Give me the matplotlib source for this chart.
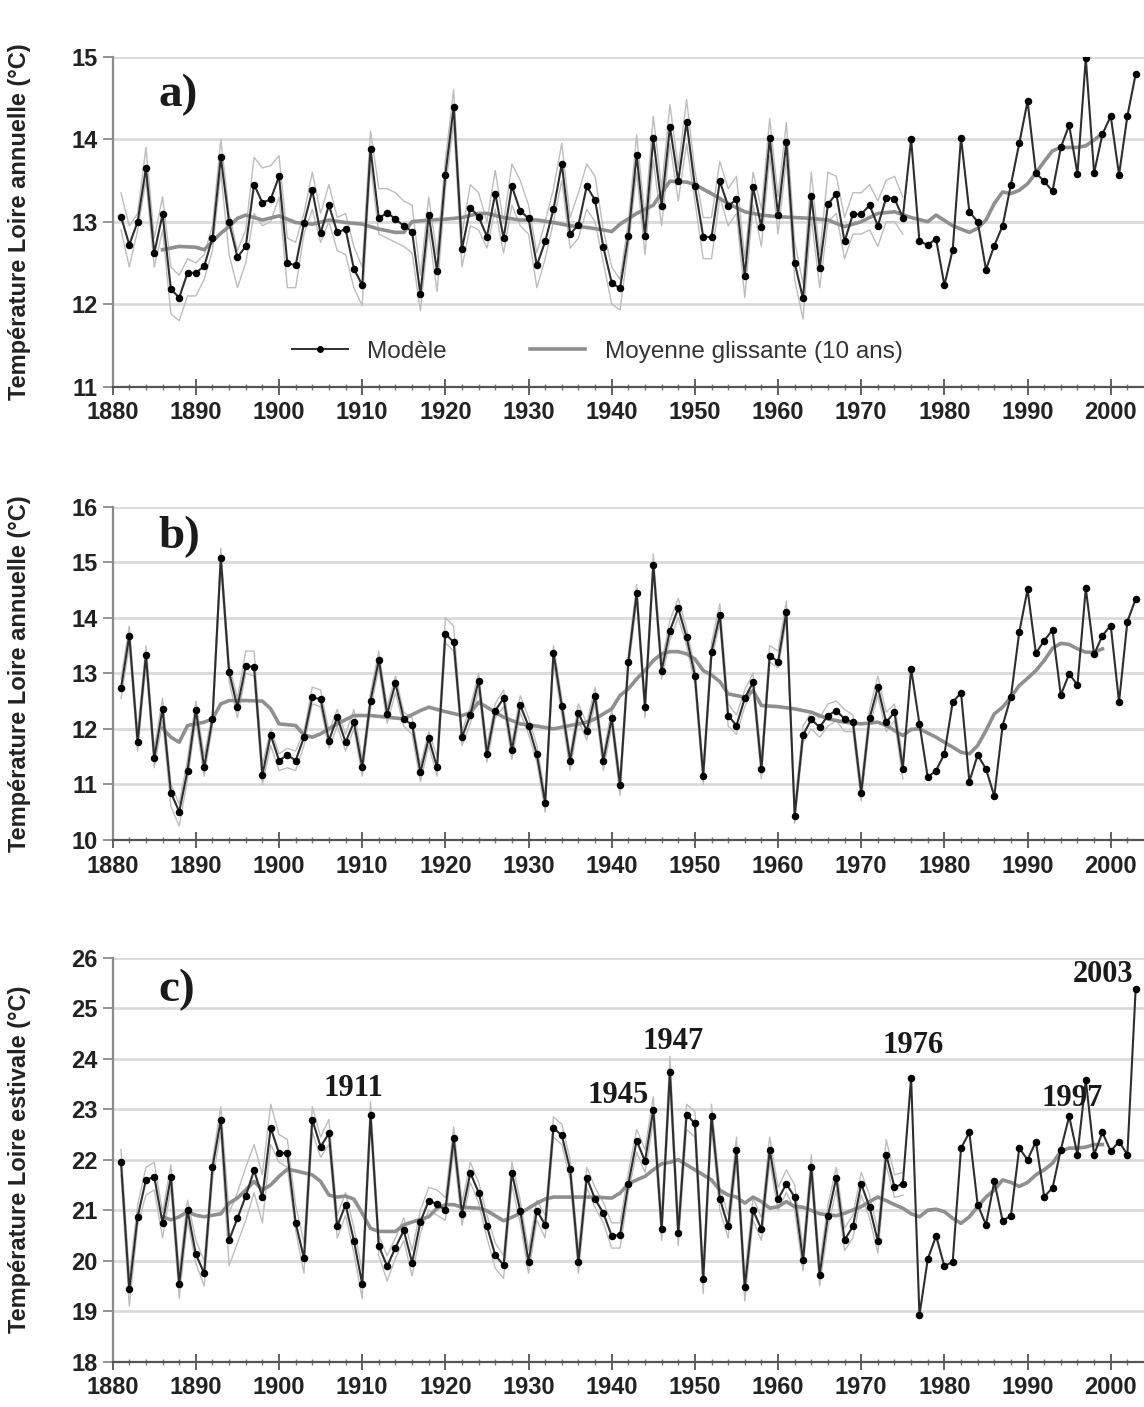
import numpy as np
import matplotlib
matplotlib.use("Agg")
import matplotlib.pyplot as plt
from matplotlib.lines import Line2D

# ---- données ----
annees = np.arange(1881, 2004)
annees_env = np.arange(1881, 1976)

# a) température annuelle (modèle)
modele_a = [13.06, 12.72, 13.0, 13.65, 12.62, 13.09, 12.18, 12.08, 12.38, 12.38,
            12.46, 12.8, 13.78, 12.99, 12.57, 12.7, 13.45, 13.23, 13.27, 13.55,
            12.5, 12.47, 12.98, 13.38, 12.86, 13.2, 12.87, 12.91, 12.43, 12.23,
            13.88, 13.04, 13.11, 13.03, 12.95, 12.88, 12.12, 13.08, 12.4, 13.57,
            14.39, 12.67, 13.17, 13.06, 12.82, 13.34, 12.8, 13.43, 13.13, 13.04,
            12.47, 12.76, 13.15, 13.7, 12.85, 12.96, 13.43, 13.26, 12.69, 12.26,
            12.19, 12.83, 13.81, 12.83, 14.01, 13.19, 14.15, 13.49, 14.21, 13.43,
            12.82, 12.81, 13.49, 13.19, 13.27, 12.34, 13.42, 12.93, 14.01, 13.08,
            13.96, 12.5, 12.07, 13.31, 12.44, 13.21, 13.34, 12.76, 13.09, 13.09,
            13.2, 12.95, 13.29, 13.28, 13.05, 14.0, 12.76, 12.72, 12.79, 12.23,
            12.66, 14.02, 13.12, 13.0, 12.42, 12.71, 12.95, 13.45, 13.95, 14.46,
            13.59, 13.49, 13.37, 13.9, 14.17, 13.58, 14.98, 13.59, 14.06, 14.28,
            13.57, 14.28, 14.79]
haut_a = [13.35, 12.95, 13.1, 13.9, 12.8, 13.3, 12.45, 12.35, 12.55, 12.5,
          12.6, 12.95, 14.0, 13.1, 12.65, 12.9, 13.78, 13.65, 13.68, 13.8,
          12.8, 12.75, 13.1, 13.6, 13.1, 13.45, 13.05, 13.1, 12.7, 12.45,
          14.1, 13.4, 13.4, 13.35, 13.25, 13.2, 12.35, 13.3, 12.6, 13.75,
          14.6, 12.85, 13.45, 13.35, 13.0, 13.62, 12.98, 13.7, 13.5, 13.2,
          12.62, 13.0, 13.4, 13.95, 13.05, 13.35, 13.7, 13.55, 12.9, 12.45,
          12.3, 13.0, 14.05, 13.05, 14.28, 13.4, 14.42, 13.65, 14.48, 13.62,
          13.05, 13.05, 13.73, 13.4, 13.55, 12.55, 13.6, 13.15, 14.25, 13.3,
          14.2, 12.75, 12.25, 13.6, 12.6, 13.6, 13.55, 13.05, 13.35, 13.35,
          13.45, 13.25, 13.5, 13.55, 13.3]
bas_a = [12.9, 12.45, 12.9, 13.5, 12.45, 12.9, 11.88, 11.8, 12.1, 12.1,
         12.3, 12.65, 13.6, 12.6, 12.2, 12.5, 13.1, 12.95, 13.0, 13.3,
         12.2, 12.2, 12.85, 13.15, 12.75, 13.0, 12.65, 12.6, 12.2, 11.98,
         13.7, 12.85, 12.8, 12.75, 12.7, 12.62, 11.92, 12.9, 12.15, 13.4,
         14.2, 12.45, 12.95, 12.9, 12.68, 13.15, 12.62, 13.2, 12.95, 12.85,
         12.2, 12.55, 13.0, 13.5, 12.68, 12.8, 13.15, 13.0, 12.5, 12.0,
         11.93, 12.7, 13.6, 12.6, 13.75, 12.95, 13.95, 13.25, 13.95, 13.25,
         12.55, 12.55, 13.3, 12.95, 13.1, 12.08, 13.2, 12.7, 13.8, 12.85,
         13.75, 12.3, 11.82, 13.05, 12.2, 13.0, 13.1, 12.55, 12.85, 12.85,
         12.9, 12.7, 13.0, 13.0, 12.85]
mm_annees_a = [1886, 1888, 1890, 1891, 1892, 1893, 1894, 1895, 1896, 1898, 1900,
               1902, 1904, 1906, 1908, 1910, 1912, 1914, 1915, 1916, 1918, 1920,
               1922, 1924, 1925, 1927, 1929, 1931, 1933, 1935, 1937, 1939, 1940,
               1941, 1943, 1945, 1946, 1947, 1949, 1950, 1952, 1954, 1956, 1958,
               1960, 1962, 1964, 1966, 1968, 1970, 1972, 1974, 1976, 1978, 1979,
               1981, 1983, 1984, 1985, 1986, 1987, 1988, 1989, 1990, 1991, 1992,
               1993, 1994, 1996, 1997, 1998, 1999]
mm_a = [12.66, 12.70, 12.69, 12.66, 12.76, 12.86, 12.94, 13.04, 13.08, 13.02, 13.07,
        12.99, 12.97, 13.02, 12.99, 12.97, 12.91, 12.87, 12.87, 13.0, 13.02, 13.03,
        13.05, 13.1, 13.1, 13.05, 13.02, 13.02, 12.99, 12.95, 12.93, 12.9, 12.88,
        12.97, 13.1, 13.2, 13.35, 13.49, 13.48, 13.45, 13.34, 13.22, 13.12, 13.08,
        13.06, 13.05, 13.04, 13.02, 12.94, 13.0, 13.1, 13.12, 13.05, 13.0, 13.08,
        12.95, 12.87, 12.92, 13.02, 13.22, 13.36, 13.34, 13.38, 13.46, 13.59, 13.73,
        13.86, 13.9, 13.9, 13.92, 13.99, 14.07]

# b) température annuelle (second jeu)
modele_b = [12.73, 13.68, 11.76, 13.33, 11.47, 12.36, 10.85, 10.51, 11.25, 12.34,
            11.31, 12.18, 15.08, 13.02, 12.39, 13.14, 13.11, 11.17, 11.89, 11.43,
            11.53, 11.43, 11.85, 12.57, 12.53, 11.79, 12.21, 11.76, 12.12, 11.31,
            12.51, 13.24, 12.27, 12.82, 12.18, 12.07, 11.22, 11.83, 11.31, 13.71,
            13.56, 11.85, 12.25, 12.87, 11.55, 12.33, 12.55, 11.62, 12.43, 12.05,
            11.54, 10.67, 13.37, 12.41, 11.43, 12.28, 11.97, 12.59, 11.43, 12.19,
            10.99, 13.21, 14.44, 12.4, 14.95, 13.05, 13.77, 14.17, 13.65, 12.96,
            11.16, 13.39, 14.05, 12.24, 12.06, 12.55, 12.84, 11.28, 13.32, 13.21,
            14.11, 10.44, 11.89, 12.17, 12.03, 12.24, 12.33, 12.18, 12.12, 10.85,
            12.19, 12.75, 12.12, 12.3, 11.28, 13.08, 12.09, 11.13, 11.25, 11.55,
            12.48, 12.65, 11.05, 11.53, 11.28, 10.79, 12.06, 12.58, 13.74, 14.51,
            13.36, 13.59, 13.78, 12.61, 12.99, 12.79, 14.53, 13.34, 13.68, 13.86,
            12.48, 13.93, 14.34]
haut_b = [12.9, 13.85, 11.95, 13.5, 11.65, 12.55, 11.0, 10.65, 11.45, 12.5,
          11.5, 12.3, 15.25, 13.15, 12.55, 13.4, 13.4, 11.35, 12.0, 11.55,
          11.65, 11.6, 11.95, 12.75, 12.7, 11.95, 12.35, 11.9, 12.35, 11.45,
          12.65, 13.4, 12.4, 12.95, 12.3, 12.2, 11.35, 11.95, 11.5, 14.0,
          13.85, 11.95, 12.4, 13.0, 11.7, 12.45, 12.7, 11.75, 12.6, 12.2,
          11.7, 10.8, 13.5, 12.55, 11.55, 12.45, 12.1, 12.75, 11.55, 12.35,
          11.1, 13.35, 14.6, 12.55, 15.15, 13.2, 13.95, 14.35, 13.8, 13.1,
          11.3, 13.55, 14.25, 12.45, 12.25, 12.7, 13.0, 11.45, 13.5, 13.4,
          14.3, 10.6, 12.05, 12.3, 12.2, 12.45, 12.5, 12.35, 12.25, 11.0,
          12.35, 12.95, 12.3, 12.45, 11.45]
bas_b = [12.55, 13.5, 11.6, 13.15, 11.3, 12.15, 10.6, 10.25, 11.1, 12.15,
         11.15, 12.05, 14.9, 12.85, 12.2, 13.0, 12.95, 11.0, 11.7, 11.25,
         11.3, 11.25, 11.7, 12.45, 12.4, 11.65, 12.05, 11.6, 12.0, 11.15,
         12.35, 13.1, 12.1, 12.65, 12.05, 11.9, 11.05, 11.7, 11.15, 13.55,
         13.4, 11.7, 12.1, 12.7, 11.4, 12.2, 12.4, 11.45, 12.3, 11.9,
         11.4, 10.5, 13.2, 12.25, 11.25, 12.15, 11.8, 12.45, 11.25, 12.05,
         10.8, 13.05, 14.3, 12.2, 14.8, 12.9, 13.6, 14.0, 13.5, 12.8,
         11.0, 13.25, 13.9, 12.05, 11.9, 12.4, 12.7, 11.1, 13.2, 13.1,
         13.95, 10.3, 11.75, 12.0, 11.85, 12.05, 12.15, 11.95, 11.95, 10.7,
         12.05, 12.6, 11.95, 12.15, 11.1]
mm_annees_b = [1886, 1887, 1888, 1889, 1890, 1891, 1892, 1893, 1894, 1896, 1898,
               1899, 1900, 1902, 1903, 1904, 1905, 1907, 1909, 1911, 1913, 1915,
               1917, 1918, 1920, 1922, 1923, 1924, 1925, 1927, 1929, 1931, 1933,
               1935, 1937, 1938, 1940, 1941, 1942, 1943, 1944, 1945, 1946, 1947,
               1948, 1949, 1950, 1951, 1952, 1953, 1954, 1955, 1956, 1957, 1958,
               1960, 1962, 1963, 1964, 1966, 1968, 1970, 1972, 1973, 1975, 1976,
               1977, 1979, 1980, 1982, 1983, 1984, 1985, 1986, 1987, 1988, 1989,
               1990, 1991, 1992, 1993, 1994, 1995, 1996, 1997, 1998, 1999]
mm_b = [12.01, 11.85, 11.76, 12.06, 12.09, 12.12, 12.18, 12.45, 12.51, 12.51, 12.5,
        12.36, 12.09, 12.06, 11.89, 11.85, 11.91, 12.09, 12.24, 12.24, 12.21, 12.18,
        12.33, 12.39, 12.31, 12.24, 12.29, 12.48, 12.39, 12.21, 12.09, 12.05, 12.0,
        12.06, 12.12, 12.18, 12.36, 12.6, 12.72, 12.9, 13.05, 13.23, 13.35, 13.39,
        13.39, 13.35, 13.26, 13.05, 12.97, 12.85, 12.63, 12.6, 12.57, 12.69, 12.42,
        12.4, 12.36, 12.33, 12.3, 12.18, 12.12, 12.09, 12.12, 12.06, 11.88, 11.99,
        12.0, 11.85, 11.76, 11.58, 11.55, 11.7, 11.97, 12.27, 12.39, 12.57, 12.78,
        12.91, 13.05, 13.23, 13.45, 13.54, 13.52, 13.44, 13.38, 13.38, 13.44]

# c) température estivale
modele_c = [21.95, 19.43, 20.87, 21.6, 21.66, 20.74, 21.66, 19.54, 21.0, 20.13,
            19.75, 21.85, 22.79, 20.41, 20.84, 21.28, 21.79, 21.26, 22.63, 22.13,
            22.13, 20.75, 20.05, 22.79, 22.26, 22.52, 20.68, 21.11, 20.4, 19.54,
            22.89, 20.29, 19.89, 20.26, 20.6, 19.96, 20.77, 21.19, 21.12, 21.0,
            22.43, 20.93, 21.74, 21.35, 20.68, 20.11, 19.91, 21.74, 20.99, 19.98,
            20.99, 20.71, 22.63, 22.48, 21.81, 19.98, 21.64, 21.22, 20.94, 20.49,
            20.51, 21.52, 22.38, 21.97, 22.99, 20.62, 23.74, 20.54, 22.89, 22.72,
            19.63, 22.87, 21.23, 20.68, 22.19, 19.47, 21.0, 20.62, 22.19, 21.22,
            21.52, 21.26, 20.01, 21.85, 19.72, 20.89, 21.64, 20.41, 20.68, 21.52,
            21.06, 20.39, 22.1, 21.46, 21.52, 23.62, 18.92, 20.03, 20.49, 19.89,
            19.98, 22.23, 22.54, 21.11, 20.71, 21.57, 20.79, 20.89, 22.23, 22.0,
            22.36, 21.27, 21.44, 22.2, 22.86, 22.1, 23.58, 22.1, 22.54, 22.17,
            22.36, 22.1, 25.39]
haut_c = [22.2, 19.7, 21.1, 21.85, 21.95, 20.95, 21.9, 19.8, 21.2, 20.4,
          20.0, 22.0, 23.05, 20.95, 21.35, 21.85, 22.3, 21.7, 23.1, 22.5,
          22.4, 21.1, 20.35, 23.05, 22.45, 22.8, 20.9, 21.35, 20.65, 19.8,
          23.15, 20.5, 20.1, 20.45, 20.85, 20.2, 21.0, 21.45, 21.4, 21.25,
          22.65, 21.15, 21.95, 21.55, 20.9, 20.35, 20.1, 21.95, 21.2, 20.2,
          21.2, 20.9, 22.85, 22.7, 22.0, 20.2, 21.85, 21.45, 21.15, 20.75,
          20.75, 21.75, 22.6, 22.2, 23.25, 20.85, 24.05, 20.8, 23.1, 22.95,
          19.85, 23.1, 21.45, 20.9, 22.45, 19.7, 21.25, 20.85, 22.45, 21.45,
          21.8, 21.5, 20.25, 22.1, 19.95, 21.1, 21.85, 20.65, 20.9, 21.75,
          21.3, 20.6, 22.4, 21.7, 21.75]
bas_c = [21.7, 19.1, 20.7, 21.3, 21.4, 20.45, 21.45, 19.25, 20.8, 19.95,
         19.5, 21.6, 22.55, 19.9, 20.35, 20.8, 21.35, 20.75, 22.3, 21.95,
         21.85, 20.6, 19.75, 22.55, 22.05, 22.3, 20.45, 20.9, 20.15, 19.25,
         22.7, 20.1, 19.6, 20.05, 20.4, 19.7, 20.55, 21.0, 20.9, 20.8,
         22.2, 20.7, 21.55, 21.15, 20.45, 19.85, 19.65, 21.5, 20.75, 19.75,
         20.8, 20.45, 22.45, 22.3, 21.6, 19.75, 21.45, 21.05, 20.75, 20.25,
         20.25, 21.35, 22.15, 21.75, 22.75, 20.4, 23.45, 20.3, 22.6, 22.45,
         19.35, 22.65, 21.0, 20.45, 21.95, 19.2, 20.8, 20.4, 21.95, 21.0,
         21.35, 21.0, 19.8, 21.65, 19.5, 20.65, 21.4, 20.2, 20.45, 21.3,
         20.85, 20.15, 21.9, 21.25, 21.3]
mm_annees_c = [1886, 1887, 1888, 1889, 1890, 1891, 1892, 1893, 1894, 1895, 1896,
               1897, 1898, 1899, 1900, 1901, 1902, 1903, 1904, 1905, 1906, 1907,
               1908, 1909, 1910, 1911, 1912, 1914, 1915, 1917, 1918, 1919, 1920,
               1921, 1922, 1924, 1925, 1926, 1927, 1928, 1929, 1930, 1931, 1932,
               1933, 1936, 1938, 1940, 1941, 1942, 1943, 1944, 1945, 1946, 1947,
               1948, 1949, 1950, 1951, 1952, 1953, 1954, 1955, 1956, 1957, 1958,
               1959, 1960, 1961, 1962, 1963, 1965, 1967, 1968, 1970, 1971, 1972,
               1973, 1974, 1975, 1976, 1977, 1978, 1979, 1980, 1981, 1982, 1983,
               1984, 1985, 1986, 1987, 1988, 1989, 1990, 1991, 1992, 1993, 1994,
               1995, 1996, 1997, 1998, 1999]
mm_c = [20.87, 20.81, 20.87, 20.97, 20.9, 20.87, 20.9, 20.93, 21.14, 21.24, 21.4,
        21.57, 21.4, 21.5, 21.67, 21.81, 21.78, 21.74, 21.7, 21.57, 21.3, 21.26,
        21.28, 21.22, 20.94, 20.64, 20.58, 20.58, 20.71, 20.82, 20.87, 21.04, 21.11,
        21.11, 21.06, 21.04, 20.99, 20.89, 20.79, 20.86, 20.94, 21.04, 21.14, 21.22,
        21.26, 21.26, 21.26, 21.24, 21.34, 21.52, 21.6, 21.67, 21.8, 21.92, 21.95,
        22.0, 21.9, 21.8, 21.7, 21.6, 21.4, 21.3, 21.26, 21.14, 21.26, 21.17,
        21.04, 21.07, 21.17, 21.07, 21.06, 20.93, 20.89, 20.94, 21.07, 21.17, 21.26,
        21.19, 21.11, 21.04, 20.93, 20.87, 21.0, 21.02, 20.97, 20.84, 20.74, 20.87,
        21.07, 21.26, 21.4, 21.6, 21.55, 21.47, 21.55, 21.7, 21.8, 21.93, 22.17,
        22.23, 22.23, 22.25, 22.3, 22.3]

annotations_c = ["1911", "1945", "1947", "1976", "1997", "2003"]
annot_x = [1909.0, 1940.8, 1947.4, 1976.2, 1995.4, 1999.1]
annot_y = [23.42, 23.28, 24.34, 24.27, 23.22, 25.66]

# ---- mise en page ----
plt.rcParams['font.family'] = ['Liberation Sans', 'DejaVu Sans']
fig = plt.figure(figsize=(11.44, 14.07), dpi=100)

panneaux = [
    # rect, ylim, modele, haut, bas, mm annees, mm, lettre, ylabel
    ([0.0985, 0.7252, 0.9015, 0.2345], (11, 15), modele_a, haut_a, bas_a,
     mm_annees_a, mm_a, "a)", 14.54, "Température Loire annuelle (°C)"),
    ([0.0985, 0.4030, 0.9015, 0.2369], (10, 16), modele_b, haut_b, bas_b,
     mm_annees_b, mm_b, "b)", 15.45, "Température Loire annuelle (°C)"),
    ([0.0985, 0.0322, 0.9015, 0.2871], (18, 26), modele_c, haut_c, bas_c,
     mm_annees_c, mm_c, "c)", 25.36, "Température Loire estivale (°C)"),
]

axes = []
for rect, ylim, mod, hi, lo, mmx, mmy, lettre, ylet, ylab in panneaux:
    ax = fig.add_axes(rect)
    axes.append(ax)
    ax.set_xlim(1880, 2004)
    ax.set_ylim(*ylim)
    ax.set_yticks(np.arange(ylim[0], ylim[1] + 1, 1))
    ax.yaxis.grid(True, color='#dadada', lw=2.0)
    ax.set_axisbelow(True)

    ax.plot(annees_env, hi, color='#bdbdbd', lw=1.0, zorder=2)
    ax.plot(annees_env, lo, color='#bdbdbd', lw=1.0, zorder=2)
    ax.plot(mmx, mmy, color='#8f8f8f', lw=2.6, zorder=3)
    ax.plot(annees, mod, color='#2e2e2e', lw=1.5, marker='o', ms=4.4,
            mfc='black', mec='black', zorder=4)

    ax.text(1885.5, ylet, lettre, fontsize=34, fontweight='bold',
            family=['Liberation Serif', 'DejaVu Serif'], ha='left', va='center',
            color='#1a1a1a')

    for s in ['top', 'right']:
        ax.spines[s].set_visible(False)
    ax.spines['left'].set_color('#8a8a8a')
    ax.spines['left'].set_linewidth(1.6)
    ax.spines['bottom'].set_color('#555555')
    ax.spines['bottom'].set_linewidth(1.6)

    ax.set_xticks(np.arange(1880, 2001, 10))
    ax.set_xticks(np.arange(1880, 2004, 2), minor=True)
    ax.tick_params(axis='x', which='major', direction='inout', length=11,
                   width=1.3, color='#555555', pad=5, labelsize=17)
    ax.tick_params(axis='x', which='minor', direction='inout', length=5,
                   width=1.0, color='#777777')
    ax.tick_params(axis='y', direction='out', length=7, width=1.3,
                   color='#8a8a8a', pad=4, labelsize=17)
    for t in ax.get_xticklabels() + ax.get_yticklabels():
        t.set_fontweight('bold')
        t.set_color('#222222')

    ax.set_ylabel(ylab, fontsize=17, fontweight='bold', color='#222222')
    ax.yaxis.set_label_coords(-0.079, 0.5)

# légende du panneau a)
h1 = Line2D([], [], color='#2e2e2e', lw=1.4, marker='o', ms=4, mfc='black', mec='black')
h2 = Line2D([], [], color='#8f8f8f', lw=2.6)
leg = axes[0].legend([h1, h2], ["Modèle", "Moyenne glissante (10 ans)"],
                     loc='center', bbox_to_anchor=(0.47, 0.105), ncol=2,
                     frameon=False, fontsize=17.5, handlelength=2.3,
                     handletextpad=0.8, columnspacing=3.4)
for t in leg.get_texts():
    t.set_color('#333333')

# années remarquables du panneau c)
for lab, xx, yy in zip(annotations_c, annot_x, annot_y):
    axes[2].text(xx, yy, lab, fontsize=22, fontweight='bold',
                 family=['Liberation Serif', 'DejaVu Serif'], ha='center',
                 va='center', color='#1a1a1a', zorder=5)

fig.savefig("out.png", dpi=100, facecolor='white')
